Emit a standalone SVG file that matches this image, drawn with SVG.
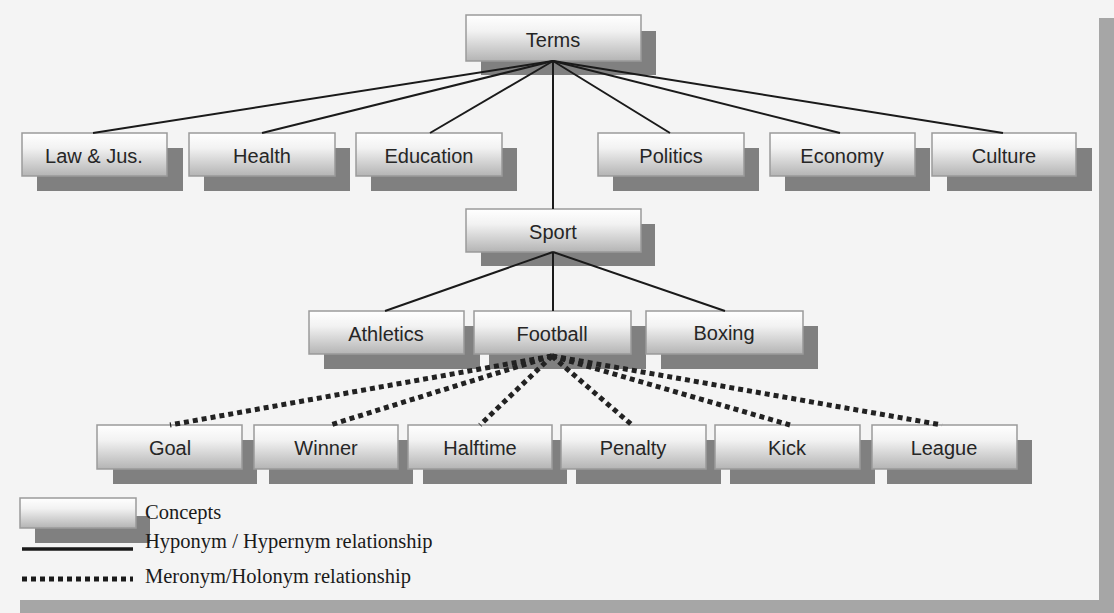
<svg xmlns="http://www.w3.org/2000/svg" width="1114" height="613" viewBox="0 0 1114 613">
<defs>
<linearGradient id="g" x1="0" y1="0" x2="0" y2="1">
<stop offset="0" stop-color="#ffffff"/>
<stop offset="0.35" stop-color="#f2f2f2"/>
<stop offset="1" stop-color="#b4b4b4"/>
</linearGradient>
</defs>
<style>
.box{fill:url(#g);stroke:#9a9a9a;stroke-width:1.5}
.sh{fill:#808080}
.lbl{font-family:"Liberation Sans",Arial,sans-serif;font-size:20px;fill:#262626;text-anchor:middle}
.leg{font-family:"Liberation Serif","Times New Roman",serif;font-size:20.5px;fill:#1a1a1a}
.hy{stroke:#1a1a1a;stroke-width:2;fill:none}
.me{stroke:#222;stroke-width:5;stroke-dasharray:5 4;fill:none}
</style>
<rect x="0" y="0" width="1114" height="613" fill="#f4f4f4"/>
<rect x="1099" y="18" width="15" height="595" fill="#a6a6a6"/>
<rect x="20" y="600" width="1094" height="13" fill="#a6a6a6"/>
<g id="terms"><rect class="sh" x="481" y="31" width="175" height="44"/><rect class="box" x="466" y="15" width="175" height="46"/><text class="lbl" x="553" y="47">Terms</text></g>
<g id="law"><rect class="sh" x="37" y="148" width="146" height="43"/><rect class="box" x="22" y="133" width="145" height="43"/><text class="lbl" x="94" y="163">Law &amp; Jus.</text></g>
<g id="health"><rect class="sh" x="204" y="148" width="146" height="43"/><rect class="box" x="189" y="133" width="146" height="43"/><text class="lbl" x="262" y="163">Health</text></g>
<g id="education"><rect class="sh" x="371" y="148" width="146" height="43"/><rect class="box" x="356" y="133" width="146" height="43"/><text class="lbl" x="429" y="163">Education</text></g>
<g id="politics"><rect class="sh" x="613" y="148" width="146" height="43"/><rect class="box" x="598" y="133" width="146" height="43"/><text class="lbl" x="671" y="163">Politics</text></g>
<g id="economy"><rect class="sh" x="785" y="148" width="145" height="43"/><rect class="box" x="770" y="133" width="145" height="43"/><text class="lbl" x="842" y="163">Economy</text></g>
<g id="culture"><rect class="sh" x="947" y="148" width="145" height="43"/><rect class="box" x="932" y="133" width="144" height="43"/><text class="lbl" x="1004" y="163">Culture</text></g>
<g id="sport"><rect class="sh" x="481" y="224" width="174" height="42"/><rect class="box" x="466" y="209" width="175" height="43"/><text class="lbl" x="553" y="239">Sport</text></g>
<g id="athletics"><rect class="sh" x="324" y="326" width="156" height="43"/><rect class="box" x="309" y="311" width="155" height="43"/><text class="lbl" x="386" y="341">Athletics</text></g>
<g id="football"><rect class="sh" x="489" y="326" width="157" height="43"/><rect class="box" x="474" y="311" width="157" height="43"/><text class="lbl" x="552" y="341">Football</text></g>
<g id="boxing"><rect class="sh" x="661" y="326" width="157" height="43"/><rect class="box" x="646" y="311" width="157" height="43"/><text class="lbl" x="724" y="340">Boxing</text></g>
<g id="goal"><rect class="sh" x="113" y="440" width="144" height="44"/><rect class="box" x="97" y="425" width="145" height="44"/><text class="lbl" x="170" y="455">Goal</text></g>
<g id="winner"><rect class="sh" x="269" y="440" width="144" height="44"/><rect class="box" x="254" y="425" width="144" height="44"/><text class="lbl" x="326" y="455">Winner</text></g>
<g id="halftime"><rect class="sh" x="423" y="440" width="144" height="44"/><rect class="box" x="408" y="425" width="144" height="44"/><text class="lbl" x="480" y="455">Halftime</text></g>
<g id="penalty"><rect class="sh" x="576" y="440" width="145" height="44"/><rect class="box" x="561" y="425" width="145" height="44"/><text class="lbl" x="633" y="455">Penalty</text></g>
<g id="kick"><rect class="sh" x="730" y="440" width="145" height="44"/><rect class="box" x="715" y="425" width="145" height="44"/><text class="lbl" x="787" y="455">Kick</text></g>
<g id="league"><rect class="sh" x="887" y="440" width="145" height="44"/><rect class="box" x="872" y="425" width="145" height="44"/><text class="lbl" x="944" y="455">League</text></g>
<g id="connectors">
<line class="hy" x1="553" y1="61" x2="93" y2="133"/>
<line class="hy" x1="553" y1="61" x2="262" y2="133"/>
<line class="hy" x1="553" y1="61" x2="430" y2="133"/>
<line class="hy" x1="553" y1="61" x2="670" y2="133"/>
<line class="hy" x1="553" y1="61" x2="840" y2="133"/>
<line class="hy" x1="553" y1="61" x2="1003" y2="133"/>
<line class="hy" x1="553" y1="61" x2="553" y2="209"/>
<line class="hy" x1="553" y1="252" x2="385" y2="311"/>
<line class="hy" x1="553" y1="252" x2="553" y2="311"/>
<line class="hy" x1="553" y1="252" x2="725" y2="311"/>
<line class="me" x1="552" y1="356" x2="170" y2="425"/>
<line class="me" x1="552" y1="356" x2="330" y2="425"/>
<line class="me" x1="552" y1="356" x2="480" y2="425"/>
<line class="me" x1="552" y1="356" x2="632" y2="425"/>
<line class="me" x1="552" y1="356" x2="790" y2="425"/>
<line class="me" x1="552" y1="356" x2="942" y2="425"/>
</g>
<g id="legend">
<rect class="sh" x="35" y="516" width="115" height="27"/>
<rect class="box" x="20" y="498" width="116" height="30"/>
<text class="leg" x="145" y="519">Concepts</text>
<line x1="22" y1="549" x2="133" y2="549" stroke="#1a1a1a" stroke-width="3.5"/>
<text class="leg" x="145" y="548">Hyponym / Hypernym relationship</text>
<line x1="22" y1="579" x2="133" y2="579" stroke="#1a1a1a" stroke-width="5" stroke-dasharray="5 4"/>
<text class="leg" x="145" y="583">Meronym/Holonym relationship</text>
</g>
</svg>
